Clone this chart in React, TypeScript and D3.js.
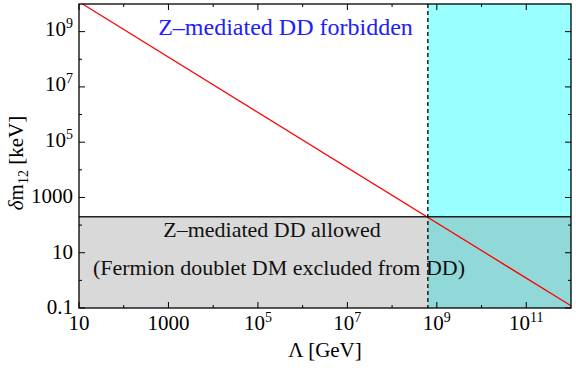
import React from "react";
import * as d3 from "d3";

// Lambda [GeV] vs delta m_12 [keV]
const lambdaPts = [12, 1e12];
const deltaMPts = [1e10, 0.12];

// boundaries
const zBound = 200; // keV, Z-mediated DD limit
const lambdaCut = 6.3e8; // GeV, vertical dashed line

const xMajor = [10, 1e3, 1e5, 1e7, 1e9, 1e11];
const xMajorLabels: [string, string][] = [
  ["10", ""],
  ["1000", ""],
  ["10", "5"],
  ["10", "7"],
  ["10", "9"],
  ["10", "11"],
];
const xMinor = [100, 1e4, 1e6, 1e8, 1e10];

const yMajor = [0.1, 10, 1e3, 1e5, 1e7, 1e9];
const yMajorLabels: [string, string][] = [
  ["0.1", ""],
  ["10", ""],
  ["1000", ""],
  ["10", "5"],
  ["10", "7"],
  ["10", "9"],
];
const yMinor = [1, 100, 1e4, 1e6, 1e8];

const W = 576;
const H = 370;
const margin = { left: 79, right: 5, top: 4, bottom: 62 };
const FONT = "Liberation Serif";

export default function App() {
  const x = d3
    .scaleLog()
    .domain([10, 1e12])
    .range([margin.left, W - margin.right]);
  const y = d3
    .scaleLog()
    .domain([0.1, 1e10])
    .range([H - margin.bottom, margin.top]);

  const [x0, x1] = x.range();
  const [y0, y1] = y.range(); // y0 bottom, y1 top

  const line = d3
    .line<number>()
    .x((d) => x(d))
    .y((_, i) => y(deltaMPts[i]));

  const major = 6;
  const minor = 3;

  return (
    <svg
      width={W}
      height={H}
      style={{ position: "absolute", left: 0, top: 0, background: "#fff", fontFamily: FONT }}
    >
      {/* shaded regions */}
      <rect
        x={x(lambdaCut)}
        y={y1}
        width={x1 - x(lambdaCut)}
        height={y(zBound) - y1}
        fill="#99ffff"
      />
      <rect
        x={x0}
        y={y(zBound)}
        width={x(lambdaCut) - x0}
        height={y0 - y(zBound)}
        fill="#d9d9d9"
      />
      <rect
        x={x(lambdaCut)}
        y={y(zBound)}
        width={x1 - x(lambdaCut)}
        height={y0 - y(zBound)}
        fill="#91d9d9"
      />

      {/* red line */}
      <path d={line(lambdaPts) || ""} stroke="#ff0000" strokeWidth={1.3} fill="none" />

      {/* horizontal Z bound */}
      <line x1={x0} x2={x1} y1={y(zBound)} y2={y(zBound)} stroke="#222" strokeWidth={1.6} />

      {/* vertical dashed */}
      <line
        x1={x(lambdaCut)}
        x2={x(lambdaCut)}
        y1={y1}
        y2={y0}
        stroke="#111"
        strokeWidth={1.4}
        strokeDasharray="4,3"
      />

      {/* annotations */}
      <text x={285.5} y={35} fontSize={24} fontFamily={FONT} fill="#2020ff" textAnchor="middle">
        Z–mediated DD forbidden
      </text>
      <text x={272} y={237} fontSize={22} fontFamily={FONT} fill="#111" textAnchor="middle">
        Z–mediated DD allowed
      </text>
      <text x={279} y={275} fontSize={22} fontFamily={FONT} fill="#111" textAnchor="middle">
        (Fermion doublet DM excluded from DD)
      </text>

      {/* frame */}
      <rect x={x0} y={y1} width={x1 - x0} height={y0 - y1} fill="none" stroke="#000" strokeWidth={1.3} />

      {/* x ticks */}
      {xMajor.map((v) => (
        <g key={"xM" + v}>
          <line x1={x(v)} x2={x(v)} y1={y0} y2={y0 - major} stroke="#000" />
          <line x1={x(v)} x2={x(v)} y1={y1} y2={y1 + major} stroke="#000" />
        </g>
      ))}
      {xMinor.map((v) => (
        <g key={"xm" + v}>
          <line x1={x(v)} x2={x(v)} y1={y0} y2={y0 - minor} stroke="#000" />
          <line x1={x(v)} x2={x(v)} y1={y1} y2={y1 + minor} stroke="#000" />
        </g>
      ))}
      {xMajor.map((v, i) => (
        <text key={"xl" + v} x={x(v)} y={y0 + 22} fontSize={21} fontFamily={FONT} textAnchor="middle">
          {xMajorLabels[i][0]}
          {xMajorLabels[i][1] && (
            <tspan fontSize={14} dy={-8}>
              {xMajorLabels[i][1]}
            </tspan>
          )}
        </text>
      ))}

      {/* y ticks */}
      {yMajor.map((v) => (
        <g key={"yM" + v}>
          <line x1={x0} x2={x0 + major} y1={y(v)} y2={y(v)} stroke="#000" />
          <line x1={x1} x2={x1 - major} y1={y(v)} y2={y(v)} stroke="#000" />
        </g>
      ))}
      {yMinor.map((v) => (
        <g key={"ym" + v}>
          <line x1={x0} x2={x0 + minor} y1={y(v)} y2={y(v)} stroke="#000" />
          <line x1={x1} x2={x1 - minor} y1={y(v)} y2={y(v)} stroke="#000" />
        </g>
      ))}
      {yMajor.map((v, i) => (
        <text
          key={"yl" + v}
          x={x0 - 6}
          y={y(v) + (yMajorLabels[i][1] ? 4.5 : 6)}
          fontSize={21}
          fontFamily={FONT}
          textAnchor="end"
        >
          {yMajorLabels[i][0]}
          {yMajorLabels[i][1] && (
            <tspan fontSize={14} dy={-8}>
              {yMajorLabels[i][1]}
            </tspan>
          )}
        </text>
      ))}

      {/* axis titles */}
      <text x={(x0 + x1) / 2} y={357} fontSize={21} fontFamily={FONT} textAnchor="middle">
        Λ [GeV]
      </text>
      <text
        transform={`translate(23,${(y0 + y1) / 2 + 7}) rotate(-90)`}
        fontSize={21}
        fontFamily={FONT}
        textAnchor="middle"
      >
        <tspan fontStyle="italic">δ</tspan>m
        <tspan fontSize={14} dy={5}>
          12
        </tspan>
        <tspan dy={-5}> [keV]</tspan>
      </text>
    </svg>
  );
}
